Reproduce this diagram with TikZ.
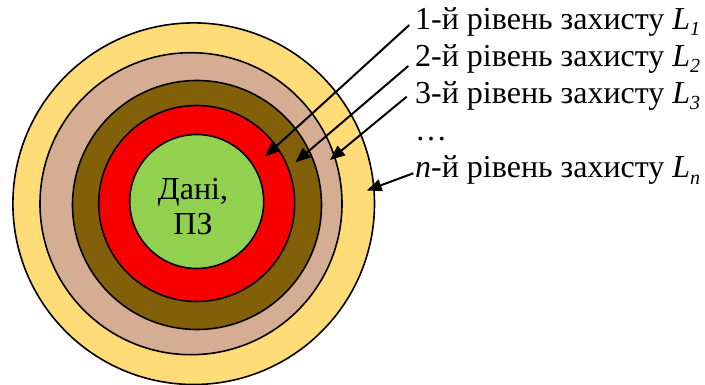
\documentclass[tikz,border=0pt]{standalone}
\usepackage{fontspec}
\setmainfont{Liberation Serif}
\usetikzlibrary{arrows.meta}
\definecolor{ringY}{HTML}{FFD96C}
\definecolor{ringYL}{HTML}{FFDC78}
\definecolor{ringT}{HTML}{D4AD92}
\definecolor{brL}{HTML}{82600A}
\definecolor{brD}{HTML}{6A4E00}
\definecolor{ringR}{HTML}{F80000}
\definecolor{ringG}{HTML}{92D050}
\pgfdeclareradialshading{brownring}{\pgfpoint{0bp}{0bp}}{color(0bp)=(brL); color(39bp)=(brL); color(50bp)=(brD)}
\pgfdeclareradialshading{yellowring}{\pgfpoint{0bp}{0bp}}{color(0bp)=(ringYL); color(42bp)=(ringYL); color(50bp)=(ringY)}
\newcommand{\lsub}[1]{\textit{L}\raisebox{-0.2em}{\fontsize{20}{20}\selectfont\itshape #1}}
\begin{document}
\begin{tikzpicture}[x=1pt,y=-1pt,
  ring/.style={circle, draw=black, line width=1.6pt, inner sep=0pt},
  lvl/.style={anchor=base west, inner sep=0pt, font=\fontsize{32}{37}\selectfont},
  core/.style={anchor=base, inner sep=0pt, font=\fontsize{32}{37}\selectfont},
  arr/.style={line width=2pt, -{Triangle[length=15pt,width=12pt]}}]
\useasboundingbox (0,0) rectangle (705,385);
% rings
\node[ring, shading=yellowring, minimum size=361.6pt] (Ln) at (193.7,203.7) {};
\node[ring, fill=ringT, minimum size=302pt] (L3) at (191,203.7) {};
\node[ring, shading=brownring, minimum size=249pt] (L2) at (197,205) {};
\node[ring, fill=ringR, minimum size=196pt] (L1) at (196.7,203.5) {};
\node[ring, fill=ringG, minimum size=134pt] (data) at (196.7,201.5) {};
\node[core] (d1) at (193,200) {Дані,};
\node[core] (d2) at (193,235) {ПЗ};
% labels
\node[lvl] (t1) at (415,29.3) {1-й рівень захисту \lsub{1}};
\node[lvl] (t2) at (415,66.6) {2-й рівень захисту \lsub{2}};
\node[lvl] (t3) at (415,103.6) {3-й рівень захисту \lsub{3}};
\node[lvl] (t4) at (415,140.5) {…};
\node[lvl] (tn) at (415,178) {\textit{n}-й рівень захисту \lsub{n}};
% arrow ends
\coordinate (s1) at (409.3,25);
\coordinate (e1) at (265,156.5);
\coordinate (s2) at (408.3,66);
\coordinate (e2) at (295.5,162.3);
\coordinate (s3) at (406.7,96.7);
\coordinate (e3) at (330,160);
\coordinate (sn) at (413.3,173.3);
\coordinate (en) at (366.7,190.5);
\draw[arr] (s1) -- (e1);
\draw[arr] (s2) -- (e2);
\draw[arr] (s3) -- (e3);
\draw[arr] (sn) -- (en);
\end{tikzpicture}
\end{document}
